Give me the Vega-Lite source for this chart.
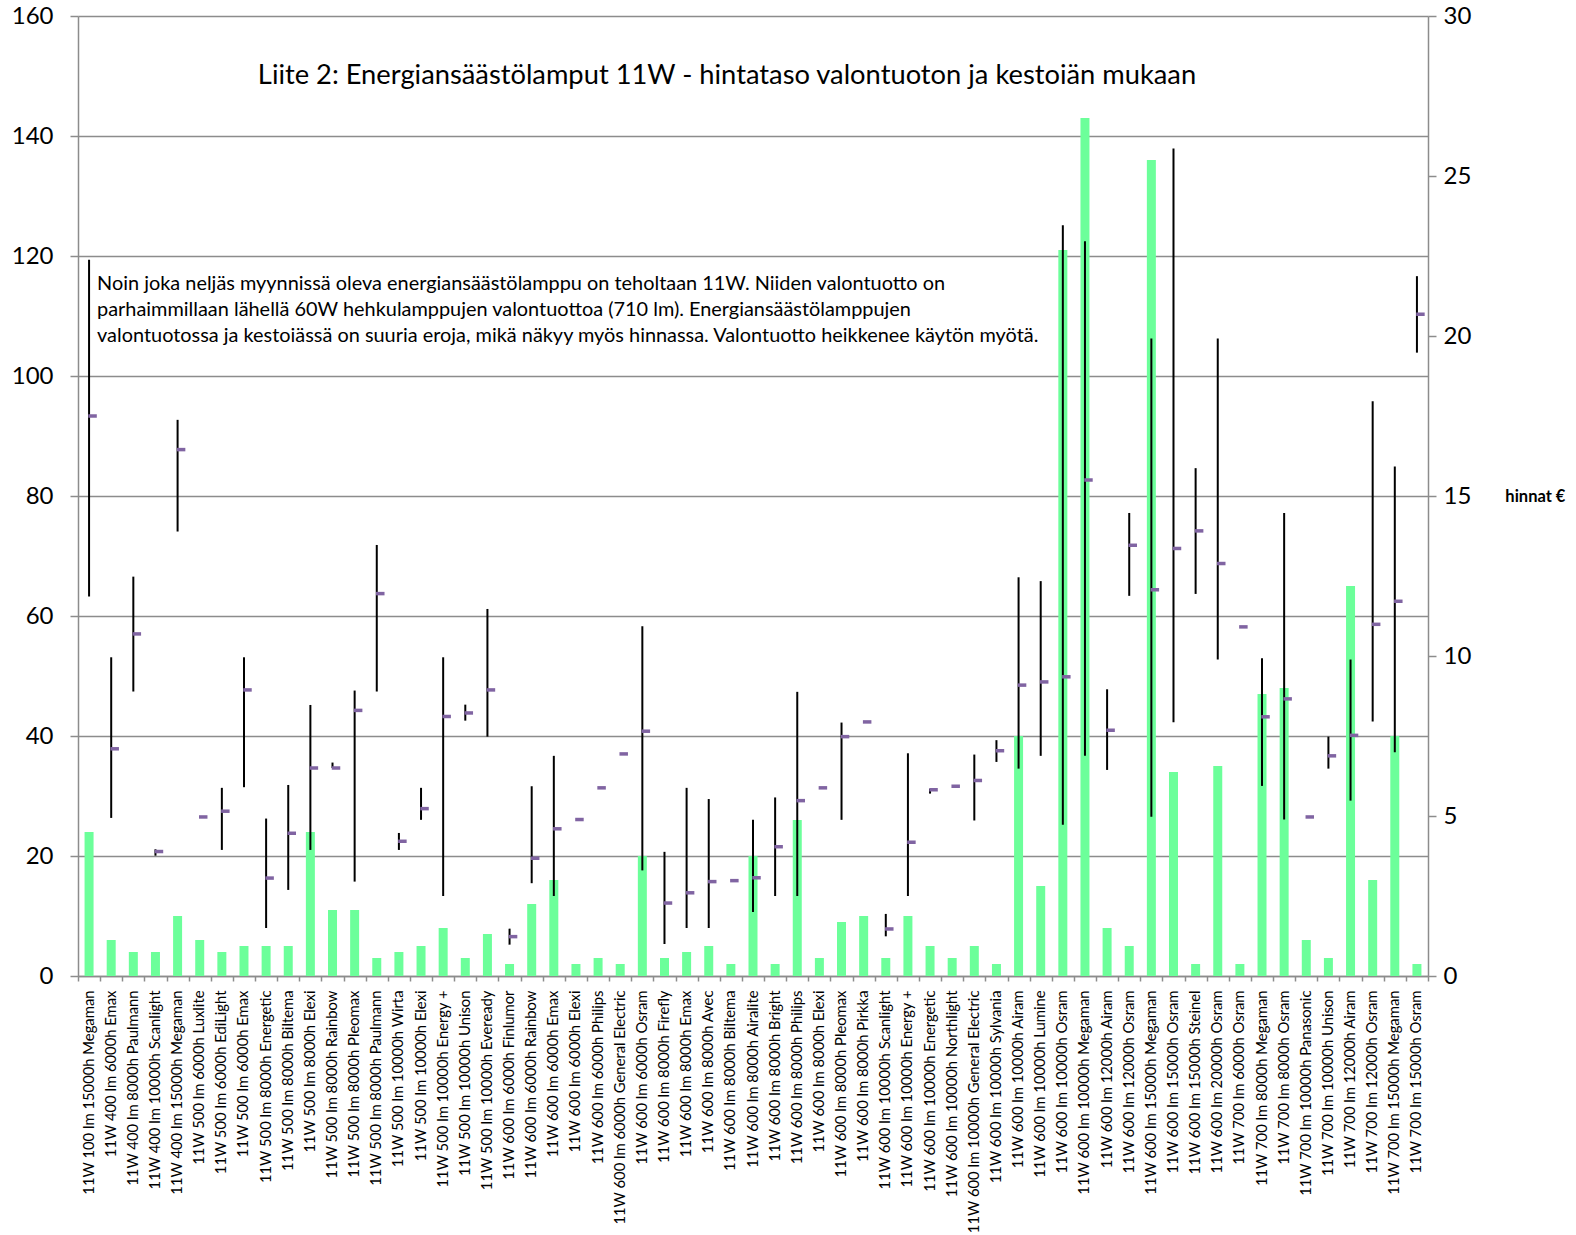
{
  "$schema": "https://vega.github.io/schema/vega-lite/v6.json",
  "width": 1350,
  "height": 960,
  "autosize": {"type": "none"},
  "padding": {"left": 78, "top": 16, "right": 148, "bottom": 259},
  "background": "white",
  "title": {
    "text": "Liite 2: Energiansäästölamput 11W - hintataso valontuoton ja kestoiän mukaan",
    "frame": "group",
    "anchor": "middle",
    "orient": "top",
    "offset": -107,
    "dx": -26,
    "baseline": "alphabetic",
    "font": "Lato",
    "fontSize": 27.3,
    "fontWeight": "normal",
    "color": "black"
  },
  "config": {
    "view": {"stroke": null},
    "axis": {"labelFont": "Lato", "titleFont": "Lato", "labelColor": "black", "titleColor": "black", "domainColor": "#8c8c8c", "tickColor": "#8c8c8c", "domainWidth": 1.5, "tickWidth": 1.5}
  },
  "data": {
    "values": [
      {"tuote": "11W 100 lm 15000h Megaman", "maara": 24, "min": 11.86, "max": 22.38, "hinta": 17.5},
      {"tuote": "11W 400 lm 6000h Emax", "maara": 6, "min": 4.94, "max": 9.96, "hinta": 7.1},
      {"tuote": "11W 400 lm 8000h Paulmann", "maara": 4, "min": 8.89, "max": 12.48, "hinta": 10.69},
      {"tuote": "11W 400 lm 10000h Scanlight", "maara": 4, "min": 3.76, "max": 3.96, "hinta": 3.89},
      {"tuote": "11W 400 lm 15000h Megaman", "maara": 10, "min": 13.89, "max": 17.38, "hinta": 16.45},
      {"tuote": "11W 500 lm 6000h Luxlite", "maara": 6, "min": null, "max": null, "hinta": 4.97},
      {"tuote": "11W 500 lm 6000h EdiLight", "maara": 4, "min": 3.94, "max": 5.88, "hinta": 5.15},
      {"tuote": "11W 500 lm 6000h Emax", "maara": 5, "min": 5.9, "max": 9.96, "hinta": 8.94},
      {"tuote": "11W 500 lm 8000h Energetic", "maara": 5, "min": 1.5, "max": 4.92, "hinta": 3.06},
      {"tuote": "11W 500 lm 8000h Biltema", "maara": 5, "min": 2.69, "max": 5.97, "hinta": 4.46},
      {"tuote": "11W 500 lm 8000h Elexi", "maara": 24, "min": 3.94, "max": 8.47, "hinta": 6.5},
      {"tuote": "11W 500 lm 8000h Rainbow", "maara": 11, "min": 6.5, "max": 6.67, "hinta": 6.5},
      {"tuote": "11W 500 lm 8000h Pleomax", "maara": 11, "min": 2.95, "max": 8.92, "hinta": 8.3},
      {"tuote": "11W 500 lm 8000h Paulmann", "maara": 3, "min": 8.89, "max": 13.47, "hinta": 11.95},
      {"tuote": "11W 500 lm 10000h Wirta", "maara": 4, "min": 3.94, "max": 4.47, "hinta": 4.21},
      {"tuote": "11W 500 lm 10000h Elexi", "maara": 5, "min": 4.88, "max": 5.88, "hinta": 5.23},
      {"tuote": "11W 500 lm 10000h Energy +", "maara": 8, "min": 2.5, "max": 9.96, "hinta": 8.11},
      {"tuote": "11W 500 lm 10000h Unison", "maara": 3, "min": 7.98, "max": 8.48, "hinta": 8.22},
      {"tuote": "11W 500 lm 10000h Eveready", "maara": 7, "min": 7.48, "max": 11.47, "hinta": 8.94},
      {"tuote": "11W 600 lm 6000h Finlumor", "maara": 2, "min": 0.98, "max": 1.48, "hinta": 1.23},
      {"tuote": "11W 600 lm 6000h Rainbow", "maara": 12, "min": 2.9, "max": 5.93, "hinta": 3.68},
      {"tuote": "11W 600 lm 6000h Emax", "maara": 16, "min": 2.5, "max": 6.88, "hinta": 4.6},
      {"tuote": "11W 600 lm 6000h Elexi", "maara": 2, "min": null, "max": null, "hinta": 4.89},
      {"tuote": "11W 600 lm 6000h Philips", "maara": 3, "min": null, "max": null, "hinta": 5.88},
      {"tuote": "11W 600 lm 6000h General Electric", "maara": 2, "min": null, "max": null, "hinta": 6.94},
      {"tuote": "11W 600 lm 6000h Osram", "maara": 20, "min": 3.3, "max": 10.93, "hinta": 7.65},
      {"tuote": "11W 600 lm 8000h Firefly", "maara": 3, "min": 1.0, "max": 3.88, "hinta": 2.28},
      {"tuote": "11W 600 lm 8000h Emax", "maara": 4, "min": 1.5, "max": 5.88, "hinta": 2.6},
      {"tuote": "11W 600 lm 8000h Avec", "maara": 5, "min": 1.5, "max": 5.53, "hinta": 2.95},
      {"tuote": "11W 600 lm 8000h Biltema", "maara": 2, "min": null, "max": null, "hinta": 2.98},
      {"tuote": "11W 600 lm 8000h Airalite", "maara": 20, "min": 2.0, "max": 4.88, "hinta": 3.07},
      {"tuote": "11W 600 lm 8000h Bright", "maara": 2, "min": 2.5, "max": 5.58, "hinta": 4.04},
      {"tuote": "11W 600 lm 8000h Philips", "maara": 26, "min": 2.5, "max": 8.88, "hinta": 5.48},
      {"tuote": "11W 600 lm 8000h Elexi", "maara": 3, "min": null, "max": null, "hinta": 5.88},
      {"tuote": "11W 600 lm 8000h Pleomax", "maara": 9, "min": 4.88, "max": 7.92, "hinta": 7.48},
      {"tuote": "11W 600 lm 8000h Pirkka", "maara": 10, "min": null, "max": null, "hinta": 7.94},
      {"tuote": "11W 600 lm 10000h Scanlight", "maara": 3, "min": 1.24, "max": 1.94, "hinta": 1.47},
      {"tuote": "11W 600 lm 10000h Energy +", "maara": 10, "min": 2.5, "max": 6.96, "hinta": 4.18},
      {"tuote": "11W 600 lm 10000h Energetic", "maara": 5, "min": 5.7, "max": 5.85, "hinta": 5.82},
      {"tuote": "11W 600 lm 10000h Northlight", "maara": 3, "min": null, "max": null, "hinta": 5.93},
      {"tuote": "11W 600 lm 10000h General Electric", "maara": 5, "min": 4.86, "max": 6.92, "hinta": 6.11},
      {"tuote": "11W 600 lm 10000h Sylvania", "maara": 2, "min": 6.69, "max": 7.37, "hinta": 7.04},
      {"tuote": "11W 600 lm 10000h Airam", "maara": 40, "min": 6.48, "max": 12.46, "hinta": 9.09},
      {"tuote": "11W 600 lm 10000h Lumine", "maara": 15, "min": 6.88, "max": 12.34, "hinta": 9.19},
      {"tuote": "11W 600 lm 10000h Osram", "maara": 121, "min": 4.73, "max": 23.46, "hinta": 9.35},
      {"tuote": "11W 600 lm 10000h Megaman", "maara": 143, "min": 6.88, "max": 22.96, "hinta": 15.5},
      {"tuote": "11W 600 lm 12000h Airam", "maara": 8, "min": 6.44, "max": 8.96, "hinta": 7.68},
      {"tuote": "11W 600 lm 12000h Osram", "maara": 5, "min": 11.88, "max": 14.47, "hinta": 13.46},
      {"tuote": "11W 600 lm 15000h Megaman", "maara": 136, "min": 4.98, "max": 19.92, "hinta": 12.07},
      {"tuote": "11W 600 lm 15000h Osram", "maara": 34, "min": 7.93, "max": 25.86, "hinta": 13.36},
      {"tuote": "11W 600 lm 15000h Steinel", "maara": 2, "min": 11.94, "max": 15.87, "hinta": 13.91},
      {"tuote": "11W 600 lm 20000h Osram", "maara": 35, "min": 9.89, "max": 19.92, "hinta": 12.89},
      {"tuote": "11W 700 lm 6000h Osram", "maara": 2, "min": null, "max": null, "hinta": 10.91},
      {"tuote": "11W 700 lm 8000h Megaman", "maara": 47, "min": 5.94, "max": 9.93, "hinta": 8.1},
      {"tuote": "11W 700 lm 8000h Osram", "maara": 48, "min": 4.89, "max": 14.47, "hinta": 8.66},
      {"tuote": "11W 700 lm 10000h Panasonic", "maara": 6, "min": null, "max": null, "hinta": 4.97},
      {"tuote": "11W 700 lm 10000h Unison", "maara": 3, "min": 6.48, "max": 7.48, "hinta": 6.88},
      {"tuote": "11W 700 lm 12000h Airam", "maara": 65, "min": 5.48, "max": 9.89, "hinta": 7.52},
      {"tuote": "11W 700 lm 12000h Osram", "maara": 16, "min": 7.95, "max": 17.96, "hinta": 10.99},
      {"tuote": "11W 700 lm 15000h Megaman", "maara": 40, "min": 6.99, "max": 15.92, "hinta": 11.71},
      {"tuote": "11W 700 lm 15000h Osram", "maara": 2, "min": 19.48, "max": 21.87, "hinta": 20.68}
    ]
  },
  "encoding": {
    "x": {
      "field": "tuote",
      "type": "nominal",
      "sort": null,
      "scale": {"paddingInner": 0, "paddingOuter": 0},
      "axis": {
        "title": null,
        "labelAngle": -90,
        "labelFontSize": 14.8,
        "labelPadding": 9,
        "tickBand": "extent",
        "tickSize": 5,
        "labelOverlap": false,
        "labelLimit": 400
      }
    }
  },
  "layer": [
    {
      "layer": [
        {
          "mark": {"type": "bar", "size": 9, "color": "#6CFF9A"},
          "encoding": {
            "y": {
              "field": "maara",
              "type": "quantitative",
              "scale": {"domain": [0, 160], "nice": false},
              "axis": {
                "title": null,
                "values": [0, 20, 40, 60, 80, 100, 120, 140, 160],
                "grid": true,
                "gridColor": "#8c8c8c",
                "gridWidth": 1.5,
                "labelFontSize": 24,
                "tickSize": 8,
                "labelPadding": 17,
                "orient": "left"
              }
            }
          }
        },
        {
          "data": {"values": [{}]},
          "mark": {
            "type": "text",
            "text": [
              "Noin joka neljäs myynnissä oleva energiansäästölamppu on teholtaan 11W. Niiden valontuotto on",
              "parhaimmillaan lähellä 60W hehkulamppujen valontuottoa (710 lm). Energiansäästölamppujen",
              "valontuotossa ja kestoiässä on suuria eroja, mikä näkyy myös hinnassa. Valontuotto heikkenee käytön myötä."
            ],
            "align": "left",
            "baseline": "top",
            "dx": 8,
            "font": "Lato",
            "fontSize": 19.9,
            "lineHeight": 26,
            "color": "black"
          },
          "encoding": {
            "x": {"datum": "11W 100 lm 15000h Megaman"},
            "y": {"datum": 117}
          }
        }
      ]
    },
    {
      "layer": [
        {
          "mark": {"type": "rule", "color": "black", "strokeWidth": 2},
          "encoding": {
            "y": {
              "field": "min",
              "type": "quantitative",
              "scale": {"domain": [0, 30], "nice": false},
              "axis": {
                "orient": "right",
                "values": [0, 5, 10, 15, 20, 25, 30],
                "grid": false,
                "labelFontSize": 24,
                "tickSize": 8,
                "labelPadding": 7,
                "title": "hinnat €",
                "titleAngle": 0,
                "titleAlign": "left",
                "titleBaseline": "middle",
                "titleFontSize": 16.5,
                "titleFontWeight": "bold",
                "titlePadding": 34
              }
            },
            "y2": {"field": "max"}
          }
        },
        {
          "mark": {"type": "tick", "color": "#8064A2", "opacity": 1, "size": 8.5, "thickness": 3.5, "xOffset": 3.5},
          "encoding": {
            "y": {"field": "hinta", "type": "quantitative"}
          }
        }
      ]
    }
  ],
  "resolve": {"scale": {"y": "independent"}}
}
